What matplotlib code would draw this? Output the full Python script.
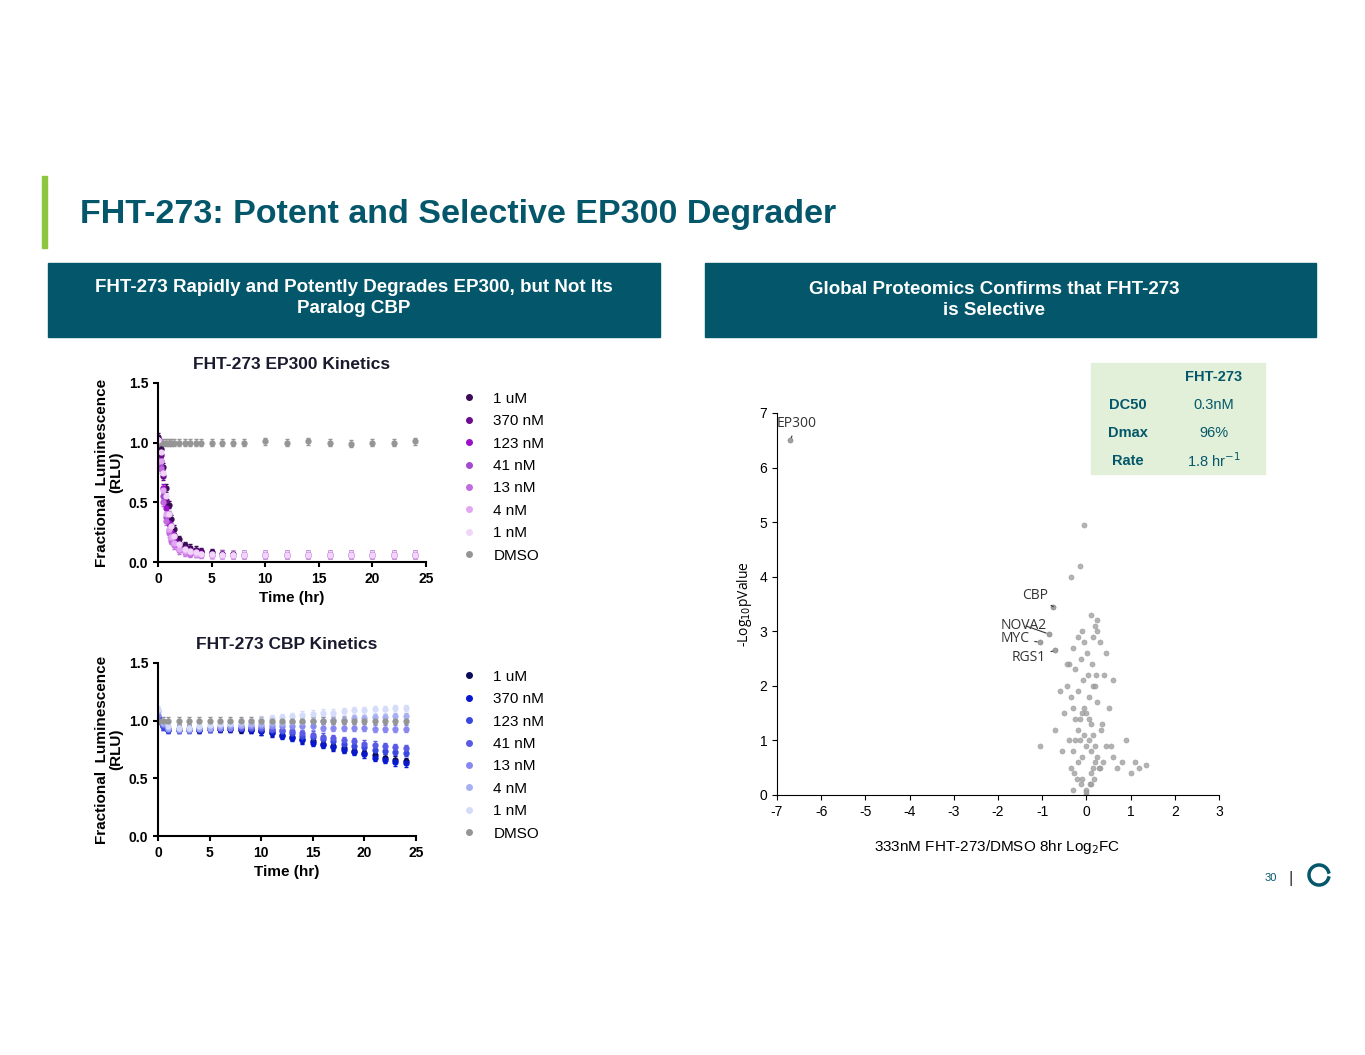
import numpy as np
import matplotlib.pyplot as plt
from matplotlib.patches import Rectangle

plt.rcParams['font.family'] = ['Liberation Sans', 'DejaVu Sans']
plt.rcParams['axes.unicode_minus'] = False

# EP300 kinetics (fractional luminescence)
ep_time = [0, 0.25, 0.5, 0.75, 1, 1.25, 1.5, 2, 2.5, 3, 3.5, 4, 5, 6, 7, 8, 10, 12, 14, 16, 18, 20, 22, 24]
ep_labels = ['1 uM', '370 nM', '123 nM', '41 nM', '13 nM', '4 nM', '1 nM', 'DMSO']
ep_colors = ['#3a0a55', '#6a0c8c', '#9a12c8', '#a548d4', '#c46ae0', '#e2a6f2', '#f2d6fa', '#959595']
ep_values = [
    [1.05, 0.95, 0.80, 0.62, 0.48, 0.36, 0.28, 0.19, 0.14, 0.12, 0.10, 0.09, 0.08, 0.07, 0.065, 0.06, 0.06, 0.06, 0.06, 0.06, 0.06, 0.06, 0.06, 0.06],
    [1.03, 0.90, 0.72, 0.52, 0.40, 0.30, 0.23, 0.16, 0.12, 0.10, 0.09, 0.08, 0.07, 0.065, 0.06, 0.06, 0.06, 0.06, 0.06, 0.06, 0.06, 0.06, 0.06, 0.06],
    [1.02, 0.85, 0.62, 0.45, 0.33, 0.25, 0.19, 0.13, 0.10, 0.09, 0.08, 0.07, 0.065, 0.06, 0.06, 0.06, 0.06, 0.06, 0.06, 0.06, 0.06, 0.06, 0.06, 0.06],
    [1.02, 0.80, 0.55, 0.38, 0.27, 0.20, 0.16, 0.11, 0.09, 0.08, 0.07, 0.07, 0.06, 0.06, 0.06, 0.06, 0.06, 0.06, 0.06, 0.06, 0.06, 0.06, 0.06, 0.06],
    [1.02, 0.78, 0.50, 0.34, 0.24, 0.18, 0.14, 0.10, 0.08, 0.07, 0.07, 0.06, 0.06, 0.06, 0.06, 0.06, 0.06, 0.06, 0.06, 0.06, 0.06, 0.06, 0.06, 0.06],
    [1.02, 0.85, 0.60, 0.40, 0.28, 0.21, 0.16, 0.11, 0.09, 0.08, 0.07, 0.07, 0.06, 0.06, 0.06, 0.06, 0.06, 0.06, 0.06, 0.06, 0.06, 0.06, 0.06, 0.06],
    [1.02, 0.92, 0.75, 0.55, 0.40, 0.30, 0.22, 0.15, 0.11, 0.09, 0.08, 0.07, 0.065, 0.06, 0.06, 0.06, 0.06, 0.06, 0.06, 0.06, 0.06, 0.06, 0.06, 0.06],
    [1.0, 1.0, 1.0, 1.0, 1.0, 1.0, 1.0, 1.0, 1.0, 1.0, 1.0, 1.0, 1.0, 1.0, 1.0, 1.0, 1.01, 1.0, 1.01, 1.0, 0.99, 1.0, 1.0, 1.01],
]

# CBP kinetics
cbp_time = [0, 0.5, 1, 2, 3, 4, 5, 6, 7, 8, 9, 10, 11, 12, 13, 14, 15, 16, 17, 18, 19, 20, 21, 22, 23, 24]
cbp_labels = ep_labels
cbp_colors = ['#0a0a5c', '#0818d0', '#3848e0', '#5a5ae6', '#8888f0', '#a8b0f4', '#d4dcfa', '#959595']
cbp_values = [
    [1.02, 0.98, 0.93, 0.93, 0.93, 0.92, 0.93, 0.93, 0.93, 0.92, 0.92, 0.91, 0.90, 0.88, 0.86, 0.84, 0.82, 0.80, 0.78, 0.76, 0.74, 0.72, 0.70, 0.68, 0.66, 0.65],
    [1.00, 0.95, 0.92, 0.92, 0.92, 0.92, 0.93, 0.93, 0.93, 0.93, 0.92, 0.91, 0.89, 0.87, 0.85, 0.83, 0.81, 0.79, 0.77, 0.75, 0.73, 0.71, 0.68, 0.66, 0.64, 0.63],
    [1.02, 0.95, 0.92, 0.92, 0.93, 0.93, 0.93, 0.94, 0.94, 0.94, 0.94, 0.93, 0.92, 0.91, 0.89, 0.87, 0.86, 0.84, 0.82, 0.80, 0.78, 0.77, 0.75, 0.74, 0.73, 0.72],
    [1.03, 0.96, 0.93, 0.93, 0.93, 0.93, 0.94, 0.94, 0.94, 0.94, 0.94, 0.94, 0.93, 0.92, 0.91, 0.89, 0.88, 0.86, 0.85, 0.83, 0.82, 0.80, 0.79, 0.78, 0.77, 0.76],
    [1.05, 0.97, 0.93, 0.92, 0.92, 0.93, 0.93, 0.94, 0.94, 0.95, 0.95, 0.95, 0.95, 0.95, 0.95, 0.95, 0.95, 0.94, 0.94, 0.94, 0.94, 0.94, 0.93, 0.93, 0.93, 0.93],
    [1.08, 0.98, 0.94, 0.93, 0.93, 0.94, 0.94, 0.95, 0.96, 0.96, 0.97, 0.97, 0.98, 0.98, 0.99, 0.99, 1.00, 1.00, 1.01, 1.01, 1.02, 1.02, 1.03, 1.03, 1.04, 1.04],
    [1.10, 1.00, 0.95, 0.94, 0.94, 0.95, 0.96, 0.97, 0.98, 0.99, 1.00, 1.01, 1.02, 1.03, 1.04, 1.05, 1.06, 1.07, 1.07, 1.08, 1.09, 1.09, 1.10, 1.10, 1.11, 1.11],
    [1.00, 1.00, 1.00, 1.00, 1.00, 1.00, 1.00, 1.00, 1.00, 1.00, 1.00, 1.00, 1.00, 1.00, 1.00, 1.00, 1.00, 1.00, 1.00, 1.00, 1.00, 1.00, 1.00, 1.00, 1.00, 1.00],
]

# Volcano plot (log2FC, -log10 p)
vol_x = [-0.30, -0.25, -0.20, -0.15, -0.10, -0.05, 0.00, 0.05, 0.10, 0.15, 0.20, 0.25, 0.30,
         -0.35, -0.28, -0.22, -0.12, -0.02, 0.08, 0.18, 0.28, 0.38, -0.40, 0.45,
         -0.30, -0.18, -0.08, 0.04, 0.14, 0.24, 0.34, -0.25, -0.12, 0.02, 0.12, 0.22,
         -0.20, -0.10, 0.00, 0.10, 0.20, -0.15, -0.05, 0.05, 0.15, -0.10, 0.00, 0.10,
         -0.50, -0.45, 0.50, 0.55, 0.60, -0.55, 0.70, 0.80, 1.00, 1.10, 1.20, 1.35,
         -0.60, -0.70, 0.40, 0.30, 0.20, -0.30, -0.40, 0.10, 0.25, -0.20, -0.35,
         -0.10, -0.25, 0.35, 0.15, -1.05, 0.90, 0.60, 0.45, -0.45, 0.20, 0.05, -0.05,
         -0.15, -0.35, 0.25, -0.05, 0.10, -0.30, 0.00]
vol_y = [0.8, 1.0, 1.2, 1.4, 1.5, 1.6, 1.5, 1.4, 1.3, 1.1, 0.9, 0.7, 0.5,
         0.5, 0.4, 0.3, 0.2, 0.1, 0.2, 0.3, 0.5, 0.6, 1.0, 0.9,
         1.6, 1.9, 2.1, 2.2, 2.0, 1.7, 1.2, 2.3, 2.5, 2.6, 2.4, 2.2,
         0.6, 0.7, 0.9, 0.8, 0.6, 1.0, 1.1, 1.0, 0.5, 0.3, 0.0, 0.4,
         1.5, 2.0, 1.6, 0.9, 0.7, 0.8, 0.5, 0.6, 0.4, 0.6, 0.5, 0.55,
         1.9, 1.2, 2.2, 2.8, 3.1, 2.7, 2.4, 3.3, 3.2, 2.9, 1.8,
         3.0, 1.4, 1.3, 2.9, 0.9, 1.0, 2.1, 2.6, 2.4, 2.0, 1.8, 2.8,
         4.2, 4.0, 3.0, 4.95, 0.2, 0.1, 0.05]
hits = {'EP300': (-6.7, 6.5), 'CBP': (-0.75, 3.45), 'NOVA2': (-0.85, 2.95),
        'MYC': (-1.05, 2.8), 'RGS1': (-0.7, 2.65)}
hit_text = {'EP300': (-7.0, 6.75), 'CBP': (-1.45, 3.6), 'NOVA2': (-1.95, 3.05),
            'MYC': (-1.95, 2.8), 'RGS1': (-1.7, 2.45)}

teal = '#04576a'
fig = plt.figure(figsize=(13.65, 10.55), dpi=100)

def fx(px):
    return px / 1365

def fy(py):
    return 1 - py / 1055

fig.add_artist(Rectangle((fx(42), fy(248)), fx(5), fy(176) - fy(248), color='#8dc63f'))
fig.text(fx(80), fy(214), 'FHT-273: Potent and Selective EP300 Degrader', color=teal,
         fontsize=24.5, fontweight='bold', va='center')
fig.add_artist(Rectangle((fx(48), fy(337)), fx(612), fy(263) - fy(337), color=teal))
fig.add_artist(Rectangle((fx(705), fy(337)), fx(611), fy(263) - fy(337), color=teal))
fig.text(fx(354), fy(298), 'FHT-273 Rapidly and Potently Degrades EP300, but Not Its\nParalog CBP',
         color='white', fontsize=13.5, fontweight='bold', ha='center', va='center', linespacing=1.3)
fig.text(fx(994), fy(300), 'Global Proteomics Confirms that FHT-273\nis Selective',
         color='white', fontsize=13.5, fontweight='bold', ha='center', va='center', linespacing=1.3)


def kinetics(rect, t, vals, labels, colors, title, xmax, leg_y, dmso_first):
    ax = fig.add_axes(rect)
    order = list(range(len(vals)))
    if dmso_first:
        order = [7] + order[:7]
    for i in order:
        ax.errorbar(t, vals[i], yerr=0.03, fmt='o', ms=3.5, color=colors[i],
                    ecolor=colors[i], elinewidth=0.6, capsize=1.5, label=labels[i])
    ax.set_xlim(0, xmax)
    ax.set_ylim(0, 1.5)
    ax.set_xticks([0, 5, 10, 15, 20, 25])
    ax.set_yticks([0, 0.5, 1.0, 1.5])
    ax.set_yticklabels(['0.0', '0.5', '1.0', '1.5'])
    for s in ['top', 'right']:
        ax.spines[s].set_visible(False)
    for s in ['left', 'bottom']:
        ax.spines[s].set_linewidth(1.5)
    ax.tick_params(width=1.5, labelsize=10)
    for lb in ax.get_xticklabels() + ax.get_yticklabels():
        lb.set_fontweight('bold')
    ax.set_xlabel('Time (hr)', fontsize=11, fontweight='bold')
    ax.set_ylabel('Fractional  Luminescence\n(RLU)', fontsize=11, fontweight='bold', linespacing=1.0)
    ax.set_title(title, fontsize=12.5, fontweight='bold', color='#1a1a2e', pad=10)
    handles = [plt.Line2D([], [], marker='o', ls='', ms=4, color=c) for c in colors]
    fig.legend(handles, labels, loc='upper left', bbox_to_anchor=(fx(440), fy(leg_y)),
               frameon=False, fontsize=11, handletextpad=0.6, labelspacing=0.55)
    return ax

kinetics([fx(158), fy(562), fx(268), fy(383) - fy(562)], ep_time, ep_values, ep_labels,
         ep_colors, 'FHT-273 EP300 Kinetics', 25, 378, True)
kinetics([fx(158), fy(836), fx(258), fy(663) - fy(836)], cbp_time, cbp_values, cbp_labels,
         cbp_colors, 'FHT-273 CBP Kinetics', 25, 656, False)

# volcano
ax = fig.add_axes([fx(777), fy(795), fx(442), fy(413) - fy(795)])
ax.scatter(vol_x, vol_y, s=14, color='#a0a0a0', edgecolor='#888888', linewidth=0.3, alpha=0.8)
for k, (x, y) in hits.items():
    ax.scatter([x], [y], s=14, color='#a0a0a0', edgecolor='#777777', linewidth=0.3)
    tx, ty = hit_text[k]
    ax.annotate(k, (x, y), xytext=(tx, ty), fontsize=10, color='#333333',
                family='Open Sans', arrowprops=dict(arrowstyle='-', color='#333333', lw=0.8))
ax.set_xlim(-7, 3)
ax.set_ylim(0, 7)
ax.set_xticks(range(-7, 4))
ax.set_yticks(range(0, 8))
for s in ['top', 'right']:
    ax.spines[s].set_visible(False)
ax.tick_params(labelsize=10)
ax.set_ylabel('-Log$_{10}$pValue', fontsize=10, family='Open Sans')
fig.text(fx(997), fy(847), '333nM FHT-273/DMSO 8hr Log$_2$FC', fontsize=11, ha='center', va='center')

# table
fig.add_artist(Rectangle((fx(1091), fy(474)), fx(174), fy(363) - fy(474), color='#e2f0d9'))
rows = [('', 'FHT-273'), ('DC50', '0.3nM'), ('Dmax', '96%'), ('Rate', '1.8 hr$^{-1}$')]
for i, (a, b) in enumerate(rows):
    y = fy(377 + i * 28)
    fig.text(fx(1128), y, a, fontsize=10.5, fontweight='bold', color=teal, ha='center', va='center')
    fig.text(fx(1214), y, b, fontsize=10.5, color=teal, ha='center', va='center',
             fontweight='bold' if i == 0 else 'normal')

fig.text(fx(1271), fy(878), '30', fontsize=8, color=teal, ha='center', va='center')
fig.text(fx(1291), fy(878), '|', fontsize=12, color='#333333', ha='center', va='center')
ang = np.linspace(0.3, 2 * np.pi - 0.3, 50)
fig.add_artist(plt.Line2D(fx(1319) + 0.0095 * np.cos(ang) * 1055 / 1365, fy(875) + 0.0095 * np.sin(ang),
                          color=teal, lw=2.5))

fig.savefig('out.png', dpi=100)
